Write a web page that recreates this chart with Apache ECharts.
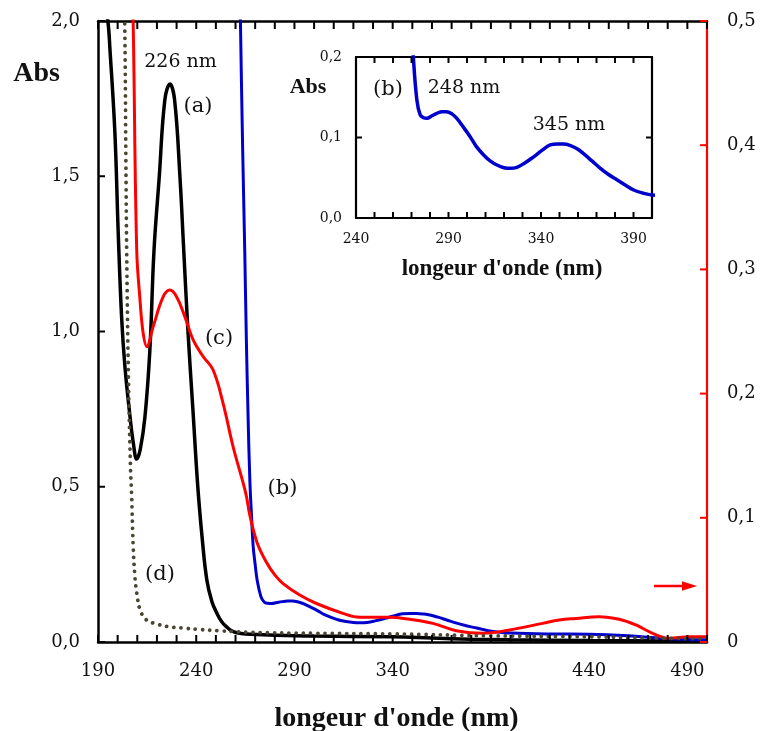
<!DOCTYPE html>
<html>
<head>
<meta charset="utf-8">
<script src="https://cdn.jsdelivr.net/npm/echarts@6/dist/echarts.min.js"></script>
<style>
html,body{margin:0;padding:0;background:#fff;}
#chart{width:760px;height:731px;}
</style>
</head>
<body>
<div id="chart"></div>
<script>
// ---- Data (wavelength nm, absorbance) ----
// (a) black, left axis
var aX = [190, 193, 195, 196.1, 198.6, 200.3, 202, 203.7, 206.3, 208, 209.7, 211.5, 213.9, 216.4, 218.5, 221.2, 224, 226.6, 229, 231.7, 233.5, 235.8, 238.3, 240.8, 243.1, 245.4, 248, 250.5, 253, 255.6, 258, 260.7, 265, 280, 300, 340, 360, 380, 400, 440, 500];
var aY = [2.2, 2.06, 2.0, 1.907, 1.64, 1.317, 1.048, 0.887, 0.726, 0.64, 0.589, 0.62, 0.725, 0.94, 1.26, 1.5, 1.745, 1.797, 1.745, 1.5, 1.28, 1.0, 0.75, 0.5, 0.33, 0.2, 0.13, 0.093, 0.065, 0.048, 0.036, 0.03, 0.026, 0.022, 0.019, 0.017, 0.013, 0.009, 0.007, 0.005, 0.003];
// (b) blue, left axis (also inset)
var bX = [262, 262.5, 263.6, 264.7, 265.5, 266.4, 267.3, 268.2, 269, 270, 271, 272.9, 274.7, 276.5, 278.3, 281, 283.7, 286.5, 289, 292, 294.5, 298, 301.7, 305, 309, 312.5, 316.2, 320, 323.4, 327, 331, 336, 340.5, 345, 349, 352.2, 356, 359.5, 363, 367.5, 372.1, 376.5, 381.2, 385.5, 390.1, 395, 400.1, 420, 440, 460, 475, 490, 500];
var bY = [2.2, 2.0, 1.6, 1.26, 0.98, 0.725, 0.52, 0.4, 0.307, 0.25, 0.2, 0.1466, 0.128, 0.1245, 0.1238, 0.127, 0.130, 0.132, 0.132, 0.129, 0.1238, 0.113, 0.101, 0.089, 0.0783, 0.071, 0.0658, 0.0625, 0.0617, 0.063, 0.068, 0.076, 0.084, 0.0907, 0.092, 0.092, 0.09, 0.086, 0.08, 0.071, 0.0617, 0.054, 0.0472, 0.041, 0.0348, 0.031, 0.0286, 0.026, 0.025, 0.02, 0.013, 0.008, 0.007];
// (c) red, right axis
var cX = [207.3, 208, 209.7, 211.4, 213, 214.8, 218.1, 223.2, 226.6, 230, 234.2, 238.5, 243.6, 248.6, 253.7, 258.8, 263.9, 265.6, 267.3, 271, 275.8, 280, 284.2, 292.7, 301.2, 314.7, 323.2, 338.4, 348.6, 360.5, 372.4, 385.9, 399.5, 416.3, 424.8, 433.3, 445.1, 455.3, 463.8, 472.3, 480.7, 490.9, 500];
var cY = [0.53, 0.49, 0.316, 0.275, 0.2485, 0.2378, 0.254, 0.278, 0.2834, 0.278, 0.262, 0.243, 0.2297, 0.219, 0.192, 0.157, 0.128, 0.117, 0.102, 0.08, 0.064, 0.054, 0.047, 0.0378, 0.031, 0.023, 0.0199, 0.0199, 0.0183, 0.015, 0.0091, 0.007, 0.0097, 0.015, 0.0177, 0.019, 0.0204, 0.0183, 0.0137, 0.007, 0.003, 0.0043, 0.0043];
// (d) dotted, left axis
var dX = [203, 203.7, 204.2, 204.6, 205.5, 206.6, 207.1, 207.9, 208.8, 209.7, 211.4, 213.9, 216, 219.8, 225, 235, 242, 252, 258.6, 267, 300, 340, 390, 440, 470, 500];
var dY = [2.2, 1.95, 1.55, 1.26, 0.85, 0.55, 0.48, 0.31, 0.21, 0.16, 0.103, 0.076, 0.066, 0.058, 0.05, 0.044, 0.04, 0.036, 0.034, 0.031, 0.028, 0.026, 0.02, 0.017, 0.013, 0.01];

// ---- Axis ranges, tick positions, label steps ----
var mainXMin = 190, mainXMax = 500, mainXLabelStep = 50;
var insetXMin = 240, insetXMax = 400, insetXLabelStep = 50;
var mainXTicks = [190, 200, 210, 220, 230, 240, 250, 260, 270, 280, 290, 300, 310, 320, 330, 340, 350, 360, 370, 380, 390, 400, 410, 420, 430, 440, 450, 460, 470, 480, 490, 500];
var insetXTicks = [240, 250, 260, 270, 280, 290, 300, 310, 320, 330, 340, 350, 360, 370, 380, 390, 400];
var leftYTicks = [0, 0.5, 1.0, 1.5, 2.0];
var rightYTicks = [0, 0.1, 0.2, 0.3, 0.4, 0.5];
var insetYTicks = [0, 0.1, 0.2];

function zip(xs, ys){ return xs.map(function(x,i){ return [x, ys[i]]; }); }
function atY(xs, y){ return xs.map(function(x){ return [x, y]; }); }
function atX(x, ys){ return ys.map(function(y){ return [x, y]; }); }
function comma1(v){ return v.toFixed(1).replace('.', ','); }

var SERIF = '"DejaVu Serif", serif';
var BOLD = '"Liberation Serif", serif';

function xAx(grid, pos, min, max, labels, labelStep, fs, margin, lw){
  var ax = {
    type:'value', gridIndex:grid, position:pos, min:min, max:max, interval:10,
    axisLine:{show:true, onZero:false, lineStyle:{color:'#000', width:lw}},
    axisTick:{show:false},
    splitLine:{show:false}
  };
  if (labels) {
    ax.axisLabel = {margin:margin, color:'#111', fontFamily:SERIF, fontSize:fs, showMinLabel:true,
      formatter:function(v){ return (Math.round(v - min) % labelStep === 0) ? String(Math.round(v)) : ''; }};
  } else {
    ax.axisLabel = {show:false};
  }
  return ax;
}

// tick marks drawn as small rect symbols on the axes' own scales
function tickSeries(xi, yi, data, w, h, off, color){
  return {type:'scatter', xAxisIndex:xi, yAxisIndex:yi, data:data, symbol:'rect', symbolSize:[w, h],
    symbolOffset:off, itemStyle:{color:color, opacity:1}, clip:false, silent:true, z:10,
    emphasis:{disabled:true}, animation:false};
}

var chart = echarts.init(document.getElementById('chart'));
chart.setOption({
  animation:false,
  grid:[
    {left:98, top:21, width:609, height:621},
    {left:356, top:57, width:296, height:161}
  ],
  xAxis:[
    xAx(0,'bottom',mainXMin,mainXMax,true,mainXLabelStep,18,20,2.5),
    xAx(0,'top',mainXMin,mainXMax,false,mainXLabelStep,18,20,2.5),
    xAx(1,'bottom',insetXMin,insetXMax,true,insetXLabelStep,14,14,2.2),
    xAx(1,'top',insetXMin,insetXMax,false,insetXLabelStep,14,14,2.2)
  ],
  yAxis:[
    {type:'value', gridIndex:0, position:'left', min:0, max:2, interval:0.5,
      axisLine:{show:true, onZero:false, lineStyle:{color:'#000', width:2.5}},
      axisTick:{show:false}, splitLine:{show:false},
      axisLabel:{margin:18, color:'#111', fontFamily:SERIF, fontSize:18, showMinLabel:true, showMaxLabel:true,
        formatter:function(v){ return comma1(v); }}},
    {type:'value', gridIndex:0, position:'right', min:0, max:0.5, interval:0.1,
      axisLine:{show:true, onZero:false, lineStyle:{color:'#ff0000', width:2.2}},
      axisTick:{show:false}, splitLine:{show:false},
      axisLabel:{margin:20, color:'#111', fontFamily:SERIF, fontSize:18, showMinLabel:true, showMaxLabel:true,
        formatter:function(v){ return Math.abs(v) < 1e-9 ? '0' : comma1(v); }}},
    {type:'value', gridIndex:1, position:'left', min:0, max:0.2, interval:0.1,
      axisLine:{show:true, onZero:false, lineStyle:{color:'#000', width:2.2}},
      axisTick:{show:false}, splitLine:{show:false},
      axisLabel:{margin:14, color:'#111', fontFamily:SERIF, fontSize:14, showMinLabel:true, showMaxLabel:true,
        formatter:function(v){ return comma1(v); }}},
    {type:'value', gridIndex:1, position:'right', min:0, max:0.2, interval:0.1,
      axisLine:{show:true, onZero:false, lineStyle:{color:'#000', width:2.2}},
      axisTick:{show:false}, splitLine:{show:false},
      axisLabel:{show:false}}
  ],
  series:[
    {name:'(a)', type:'line', xAxisIndex:0, yAxisIndex:0, data:zip(aX,aY), smooth:0.4, showSymbol:false, symbol:'none', clip:true,
      lineStyle:{color:'#000', width:3.5}, z:2},
    {name:'(b)', type:'line', xAxisIndex:0, yAxisIndex:0, data:zip(bX,bY), smooth:0.4, showSymbol:false, symbol:'none', clip:true,
      lineStyle:{color:'#0000cc', width:3}, z:3},
    {name:'(c)', type:'line', xAxisIndex:0, yAxisIndex:1, data:zip(cX,cY), smooth:0.4, showSymbol:false, symbol:'none', clip:true,
      lineStyle:{color:'#ff0000', width:3}, z:4},
    {name:'(d)', type:'line', xAxisIndex:0, yAxisIndex:0, data:zip(dX,dY), smooth:0.4, showSymbol:false, symbol:'none', clip:true,
      lineStyle:{color:'#4a4633', width:3.8, type:[0.01, 7.2], cap:'round'}, z:5},
    {name:'(b) inset', type:'line', xAxisIndex:2, yAxisIndex:2, data:zip(bX,bY), smooth:0.4, showSymbol:false, symbol:'none', clip:true,
      lineStyle:{color:'#0000cc', width:3.5}, z:3},
    // tick marks (inside the frames)
    tickSeries(0, 0, atY(mainXTicks, 0), 2, 7, [0, -3.5], '#000'),
    tickSeries(0, 0, atY(mainXTicks, 2), 2, 8, [0, 4], '#000'),
    tickSeries(0, 0, atX(mainXMin, leftYTicks), 7, 2, [3.5, 0], '#000'),
    tickSeries(0, 1, atX(mainXMax, rightYTicks), 7, 2, [-3.5, 0], '#ff0000'),
    tickSeries(2, 2, atY(insetXTicks, 0), 2, 6, [0, -3], '#000'),
    tickSeries(2, 2, atY(insetXTicks, 0.2), 2, 6, [0, 3], '#000'),
    tickSeries(2, 2, atX(insetXMin, insetYTicks), 6, 2, [3, 0], '#000'),
    tickSeries(2, 2, atX(insetXMax, insetYTicks), 6, 2, [-3, 0], '#000')
  ],
  graphic:[
    {type:'text', x:36.5, y:74, style:{text:'Abs', font:'bold 28px '+BOLD, fill:'#111', textAlign:'center', textVerticalAlign:'middle'}},
    {type:'text', x:396.5, y:719, style:{text:"longeur d'onde (nm)", font:'bold 28px '+BOLD, fill:'#111', textAlign:'center', textVerticalAlign:'middle'}},
    {type:'text', x:308, y:87, style:{text:'Abs', font:'bold 22px '+BOLD, fill:'#111', textAlign:'center', textVerticalAlign:'middle'}},
    {type:'text', x:502, y:269, style:{text:"longeur d'onde (nm)", font:'bold 23px '+BOLD, fill:'#111', textAlign:'center', textVerticalAlign:'middle'}},
    {type:'text', x:180.5, y:62, style:{text:'226 nm', font:'19px '+SERIF, fill:'#111', textAlign:'center', textVerticalAlign:'middle'}},
    {type:'text', x:198, y:107, style:{text:'(a)', font:'21px '+SERIF, fill:'#111', textAlign:'center', textVerticalAlign:'middle'}},
    {type:'text', x:219, y:339, style:{text:'(c)', font:'21px '+SERIF, fill:'#111', textAlign:'center', textVerticalAlign:'middle'}},
    {type:'text', x:282.5, y:489, style:{text:'(b)', font:'21px '+SERIF, fill:'#111', textAlign:'center', textVerticalAlign:'middle'}},
    {type:'text', x:160, y:575, style:{text:'(d)', font:'21px '+SERIF, fill:'#111', textAlign:'center', textVerticalAlign:'middle'}},
    {type:'text', x:388, y:90, style:{text:'(b)', font:'21px '+SERIF, fill:'#111', textAlign:'center', textVerticalAlign:'middle'}},
    {type:'text', x:464, y:88, style:{text:'248 nm', font:'19px '+SERIF, fill:'#111', textAlign:'center', textVerticalAlign:'middle'}},
    {type:'text', x:569, y:125, style:{text:'345 nm', font:'19px '+SERIF, fill:'#111', textAlign:'center', textVerticalAlign:'middle'}},
    {type:'line', shape:{x1:654, y1:586, x2:688, y2:586}, style:{stroke:'#ff0000', lineWidth:2.5}},
    {type:'polygon', shape:{points:[[682,581.3],[697,586],[682,590.7]]}, style:{fill:'#ff0000'}}
  ]
});
</script>
</body>
</html>
